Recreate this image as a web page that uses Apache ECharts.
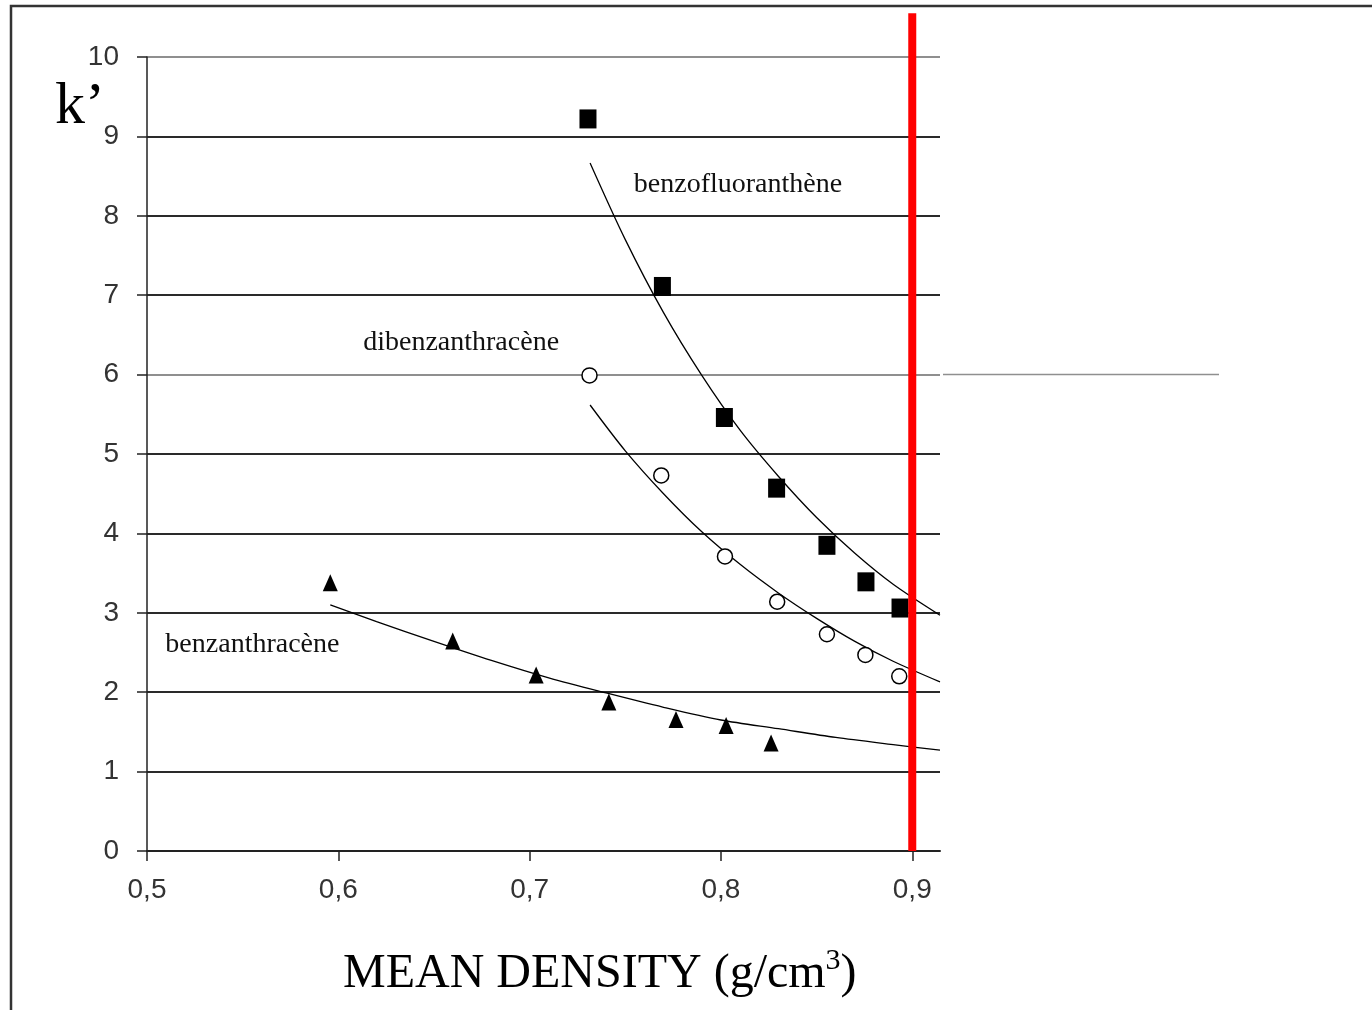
<!DOCTYPE html>
<html>
<head>
<meta charset="utf-8">
<script src="https://cdn.jsdelivr.net/npm/echarts@6/dist/echarts.min.js"></script>
<style>
html, body { margin: 0; padding: 0; background: #fff; }
#chart { width: 1372px; height: 1010px; }
</style>
</head>
<body>
<div id="chart"></div>
<script>
// axis ticks
let xTicks = [0.5, 0.6, 0.7, 0.8, 0.9];
let xTickLabels = ['0,5', '0,6', '0,7', '0,8', '0,9'];
let yTicks = [0, 1, 2, 3, 4, 5, 6, 7, 8, 9, 10];

// measured points
let benzofluoX = [0.7305, 0.7694, 0.8018, 0.8291, 0.8554, 0.8758, 0.8936];
let benzofluoY = [9.22, 7.11, 5.46, 4.57, 3.85, 3.39, 3.06];
let dibenzX = [0.7313, 0.7688, 0.8021, 0.8294, 0.8554, 0.8755, 0.8932];
let dibenzY = [5.99, 4.73, 3.71, 3.14, 2.73, 2.47, 2.20];
let benzanX = [0.5958, 0.6598, 0.7034, 0.7414, 0.7765, 0.8027, 0.8262];
let benzanY = [3.38, 2.645, 2.217, 1.877, 1.656, 1.58, 1.36];

// trend curves
let benzofluoFitX = [0.7316, 0.75, 0.77, 0.79, 0.81, 0.83, 0.85, 0.87, 0.89, 0.9145];
let benzofluoFitY = [8.665, 7.70, 6.78, 5.99, 5.30, 4.72, 4.20, 3.75, 3.36, 2.97];
let dibenzFitX = [0.7316, 0.75, 0.77, 0.79, 0.81, 0.83, 0.85, 0.87, 0.89, 0.9145];
let dibenzFitY = [5.617, 5.04, 4.50, 4.02, 3.61, 3.25, 2.93, 2.64, 2.39, 2.13];
let benzanFitX = [0.5958, 0.62, 0.65, 0.68, 0.71, 0.74, 0.77, 0.80, 0.83, 0.86, 0.89, 0.9145];
let benzanFitY = [3.10, 2.89, 2.64, 2.40, 2.18, 1.99, 1.81, 1.65, 1.54, 1.43, 1.34, 1.27];

// curve names and where they are written
let annotNames = ['benzofluoranthène', 'dibenzanthracène', 'benzanthracène'];
let annotX = [0.8089, 0.6642, 0.5551];
let annotY = [8.39, 6.40, 2.594];

// red limit line
let redLineX = 0.9;
let redLineTop = 10.55;

let myChart = echarts.init(document.getElementById('chart'));

let serifFont = '"Liberation Serif", "Times New Roman", serif';
let tickFont = '"Liberation Sans Narrow", "Liberation Sans", Arial, sans-serif';

function pairs(xs, ys) {
    return xs.map(function (x, i) { return [x, ys[i]]; });
}

let gridColors = yTicks.map(function (v) {
    return (v === 6 || v === 10) ? '#8f8f8f' : '#2a2a2a';
});

function fitSeries(idx, xs, ys) {
    return {
        name: annotNames[idx] + ' fit',
        type: 'line',
        data: pairs(xs, ys),
        smooth: 0.3,
        symbol: 'none',
        lineStyle: { color: '#000', width: 1.3 },
        z: 3,
        markPoint: {
            symbol: 'circle',
            symbolSize: 1,
            itemStyle: { color: 'rgba(0,0,0,0)' },
            label: {
                show: true,
                position: 'inside',
                formatter: '{b}',
                color: '#111',
                fontSize: 28,
                fontFamily: serifFont
            },
            data: [{ name: annotNames[idx], coord: [annotX[idx], annotY[idx]] }]
        }
    };
}

function frameGraphics(y6) {
    let list = [
        {
            id: 'frame',
            type: 'polyline',
            shape: { points: [[11, 1010], [11, 6], [1372, 6]] },
            style: { stroke: '#333', lineWidth: 2.5, fill: null }
        },
        {
            id: 'kname',
            type: 'text',
            left: 55,
            top: 77,
            style: { text: 'k\u2019', fontSize: 60, fontFamily: serifFont, fill: '#000' }
        },
        {
            id: 'xname',
            type: 'text',
            left: 343,
            top: 946,
            style: {
                text: '{a|MEAN DENSITY (g/cm}{s|3}{a|)}',
                rich: {
                    a: { fontSize: 48, fontFamily: serifFont, fill: '#000', lineHeight: 56 },
                    s: { fontSize: 30, fontFamily: serifFont, fill: '#000', lineHeight: 56, verticalAlign: 'top' }
                }
            }
        }
    ];
    if (y6 != null) {
        // the thin grey rule at 6 runs on past the plot
        list.push({
            id: 'rule6',
            type: 'line',
            shape: { x1: 943, y1: y6, x2: 1219, y2: y6 },
            style: { stroke: '#8f8f8f', lineWidth: 1.5 }
        });
    }
    return list;
}

option = {
    animation: false,
    backgroundColor: '#fff',
    grid: { left: 147, right: 432, top: 57, bottom: 159 },
    xAxis: {
        type: 'value',
        min: 0.5,
        max: 0.9145,
        interval: 0.1,
        axisLine: { show: true, onZero: false, lineStyle: { color: '#222', width: 2 } },
        axisTick: { show: true, length: 10, customValues: xTicks, lineStyle: { color: '#222', width: 1.5 } },
        axisLabel: {
            customValues: xTicks,
            margin: 25,
            color: '#333',
            fontSize: 28,
            fontFamily: tickFont,
            formatter: function (v) {
                let i = xTicks.findIndex(function (t) { return Math.abs(t - v) < 1e-6; });
                return i >= 0 ? xTickLabels[i] : '';
            }
        },
        splitLine: { show: false }
    },
    yAxis: {
        type: 'value',
        min: 0,
        max: 10,
        interval: 1,
        axisLine: { show: true, lineStyle: { color: '#222', width: 1.5 } },
        axisTick: { show: true, length: 10, lineStyle: { color: '#222', width: 1.5 } },
        axisLabel: { margin: 28, color: '#333', fontSize: 28, fontFamily: tickFont },
        splitLine: { show: true, lineStyle: { color: gridColors, width: 2 } }
    },
    graphic: frameGraphics(null),
    series: [
        fitSeries(0, benzofluoFitX, benzofluoFitY),
        fitSeries(1, dibenzFitX, dibenzFitY),
        fitSeries(2, benzanFitX, benzanFitY),
        {
            name: annotNames[0],
            type: 'scatter',
            data: pairs(benzofluoX, benzofluoY),
            symbol: 'rect',
            symbolSize: [17, 19],
            itemStyle: { color: '#000', opacity: 1 },
            z: 5
        },
        {
            name: annotNames[1],
            type: 'scatter',
            data: pairs(dibenzX, dibenzY),
            symbol: 'circle',
            symbolSize: 15,
            itemStyle: { color: '#fff', borderColor: '#000', borderWidth: 1.5, opacity: 1 },
            z: 5
        },
        {
            name: annotNames[2],
            type: 'scatter',
            data: pairs(benzanX, benzanY),
            symbol: 'triangle',
            symbolSize: [15, 17],
            itemStyle: { color: '#000', opacity: 1 },
            z: 5
        },
        {
            name: 'limit',
            type: 'line',
            data: [[redLineX, 0], [redLineX, redLineTop]],
            clip: false,
            symbol: 'none',
            lineStyle: { color: '#ff0000', width: 8 },
            z: 10
        }
    ]
};
myChart.setOption(option);

let y6 = myChart.convertToPixel({ yAxisIndex: 0 }, 6);
myChart.setOption({ graphic: frameGraphics(y6) });
</script>
</body>
</html>
